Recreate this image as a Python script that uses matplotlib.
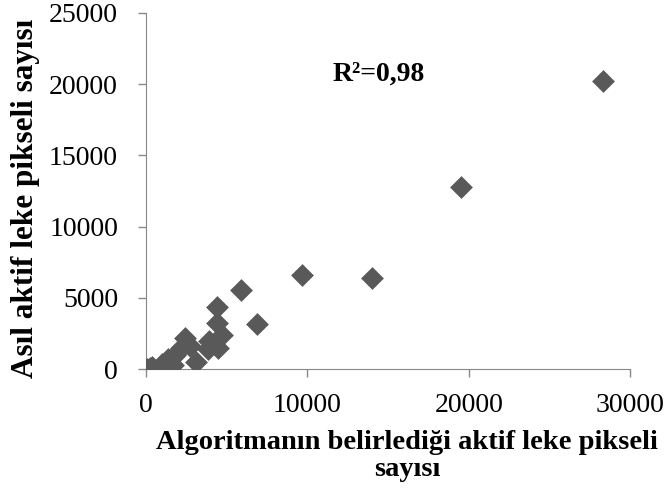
import matplotlib
matplotlib.use("Agg")
import matplotlib.pyplot as plt

algo_x = [28300, 19500, 14000, 9700, 5900, 6900, 4400, 4400, 4700, 3900, 4450,
          3850, 2450, 2750, 3100, 2200, 1800, 1400, 1000, 400, 100, 1700, 1200, 250]
actual_y = [20250, 12800, 6400, 6600, 5550, 3150, 4380, 3200, 2400, 1980, 1500,
            1380, 2200, 1650, 500, 1450, 1000, 700, 350, 150, 20, 280, 80, 50]

xticks = [0, 10000, 20000, 30000]
yticks = [0, 5000, 10000, 15000, 20000, 25000]

plt.rcParams['font.family'] = ['Liberation Serif', 'DejaVu Serif']

fig = plt.figure(figsize=(6.69, 4.96), dpi=100)
ax = fig.add_axes([0.218, 0.256, 0.724, 0.718])
ax.scatter(algo_x, actual_y, marker='D', s=135, color='#595959', zorder=3, linewidths=0)
ax.set_xlim(0, 30000)
ax.set_ylim(0, 25000)
ax.set_xticks(xticks)
ax.set_yticks(yticks)
ax.tick_params(axis='both', labelsize=20, colors='#888888', labelcolor='black',
               direction='out', length=6, width=1)
ax.tick_params(axis='y', pad=14)
ax.tick_params(axis='x', pad=11)
for s in ['top', 'right']:
    ax.spines[s].set_visible(False)
for s in ['left', 'bottom']:
    ax.spines[s].set_color('#888888')
ax.set_xlabel('Algoritmanın belirlediği aktif leke pikseli\nsayısı',
              fontsize=20.5, fontweight='bold', linespacing=1.15)
ax.xaxis.set_label_coords(0.54, -0.17)
ax.xaxis.label.set_va('top')
ax.set_ylabel('Asıl aktif leke pikseli sayısı', fontsize=22.5, fontweight='bold')
ax.yaxis.set_label_coords(-0.218, 0.479)
ax.text(14400, 20700, 'R²=0,98', fontsize=20, fontweight='bold',
        ha='center', va='center')
fig.savefig('out.png', dpi=100)
